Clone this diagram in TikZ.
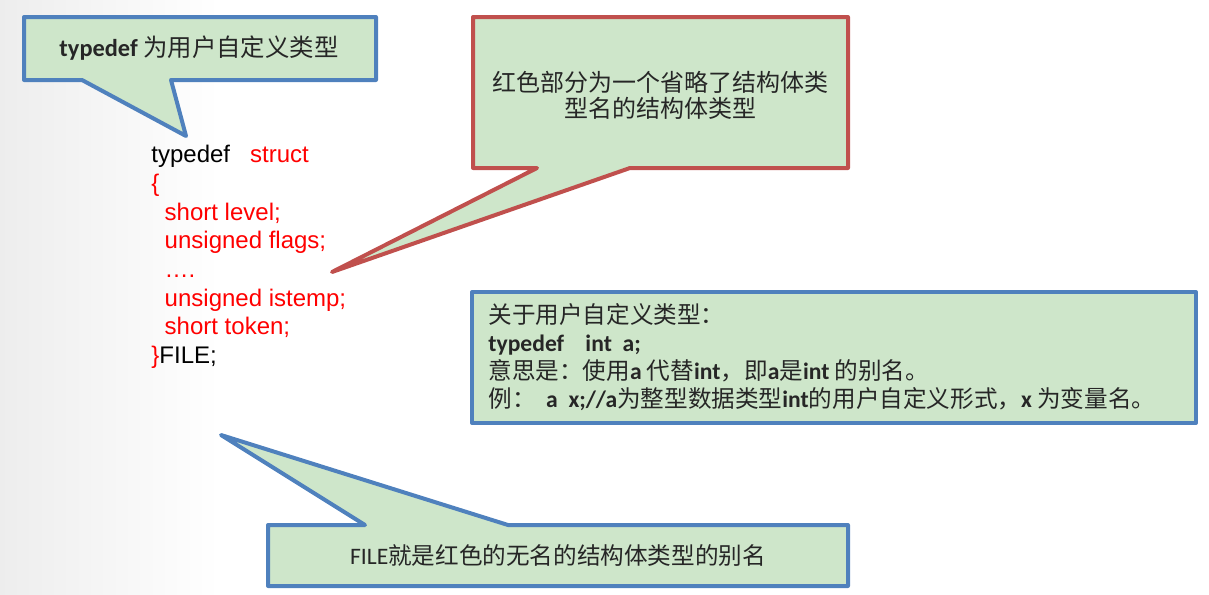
\documentclass[tikz,border=0pt]{standalone}
\usepackage{fontspec}
\usepackage{xcolor}
\setmainfont{Carlito}
\newfontfamily\cjk{Noto Sans CJK SC}
\newfontfamily\codefont{Liberation Sans}
\definecolor{notegreen}{RGB}{206,230,202}
\definecolor{noteblue}{RGB}{79,129,189}
\definecolor{notered}{RGB}{192,80,77}
\definecolor{codered}{RGB}{255,0,0}
\newcommand\lat[1]{{\rmfamily\bfseries #1}}

\begin{document}
\begin{tikzpicture}[x=0.5pt,y=-0.5pt,
  bubble/.style={fill=notegreen,line width=2pt,line join=round},
  notetext/.style={inner sep=0pt,text=black!85}]
\useasboundingbox (0,0) rectangle (1209,594);
\shade[left color=black!7,right color=white] (0,0) rectangle (220,594);
% callouts
\draw[bubble,draw=noteblue] (24,17) -- (376,17) -- (376,80) -- (171,80)
  -- (186,136) coordinate (tipA) -- (82,80) -- (24,80) -- cycle;
\draw[bubble,draw=notered] (473,17) -- (848,17) -- (848,168) -- (630,168)
  -- (332,272) coordinate (tipB) -- (537,168) -- (473,168) -- cycle;
\draw[bubble,draw=noteblue] (268,525) -- (365,525) -- (221,435) coordinate (tipC)
  -- (508,525) -- (848,525) -- (848,586) -- (268,586) -- cycle;
\draw[bubble,draw=noteblue] (472,292) rectangle (1196,423);
% texts
\node[notetext,font=\fontsize{12.2}{14}\selectfont] (title) at (199,48)
  {\textbf{typedef} \cjk 为用户自定义类型};
\node[notetext,align=center,font=\cjk\fontsize{12}{13}\selectfont] (remark) at (660,95)
  {红色部分为一个省略了结构体类\\型名的结构体类型};
\node[inner sep=0pt,anchor=north west,align=left,text=codered,
  font=\codefont\fontsize{12}{14.35}\selectfont] (code) at (151,145)
  {{\color{black}typedef}\ \ \ struct\\
   \{\\
   \ \ short level;\\
   \ \ unsigned flags;\\
   \ \ ….\\
   \ \ unsigned istemp;\\
   \ \ short token;\\
   \}{\color{black}FILE;}};
\node[notetext,anchor=north west,align=left,font=\cjk\fontsize{11.8}{14}\selectfont] (about) at (488,303)
  {关于用户自定义类型：\\
   \lat{typedef\ \ \ \ int\ \ a;}\\
   意思是：使用\lat{a} 代替\lat{int}，即\lat{a}是\lat{int} 的别名。\\
   例：\ \ \lat{a\ \ x;//a}为整型数据类型\lat{int}的用户自定义形式，\lat{x} 为变量名。};
\node[notetext,font=\fontsize{11.8}{14}\selectfont] (alias) at (558,556)
  {FILE\cjk 就是红色的无名的结构体类型的别名};
\end{tikzpicture}
\end{document}
